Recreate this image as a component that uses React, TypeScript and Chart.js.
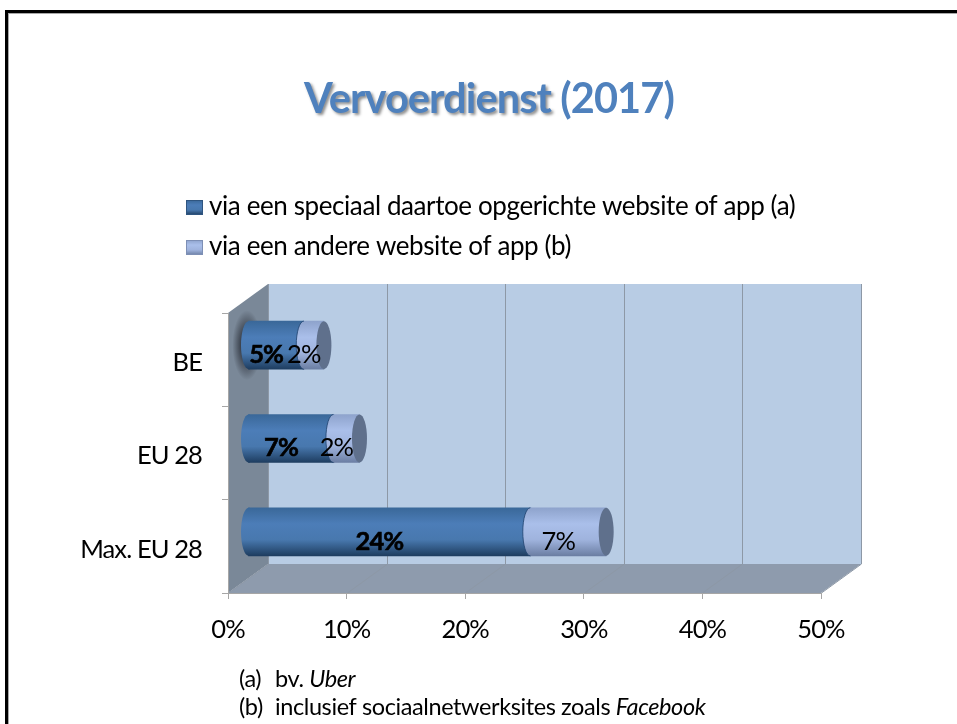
import React, { useEffect, useRef } from "react";
import { Chart, registerables } from "chart.js";

Chart.register(...registerables);

const categories = ["BE", "EU 28", "Max. EU 28"];
const dedicatedValues = [4.7, 7.2, 23.8];
const otherValues = [1.7, 2.2, 6.4];
const dedicatedLabels = ["5%", "7%", "24%"];
const otherLabels = ["2%", "2%", "7%"];
const seriesNames = ["via een speciaal daartoe opgerichte website of app (a)", "via een andere website of app (b)"];
const titleBold = "Vervoerdienst";
const titleRest = " (2017)";
const noteA = ["(a)", "bv. ", "Uber"];
const noteB = ["(b)", "inclusief sociaalnetwerksites zoals ", "Facebook"];

const FAMILY = "Lato, 'Open Sans', sans-serif";
const SPACING = "-0.9px";
const TEXT_SPACING = "-0.4px";
const BAR = 48;
const DX = 40;
const DY = -29;
const RX = 7.5;

function vGrad(c: CanvasRenderingContext2D, top: number, h: number, stops: string[]) {
  const g = c.createLinearGradient(0, top, 0, top + h);
  stops.forEach((s, i) => g.addColorStop(i / (stops.length - 1), s));
  return g;
}
const BLUE = ["#3a6899", "#4c7db8", "#4878ae", "#1e3d60"];
const LIGHT = ["#8ea3cc", "#aabfea", "#9fb3dd", "#6b7ea3"];

const scenePlugin = {
  id: "scene",
  afterLayout(chart: any) {
    const sc = chart.scales.y;
    if (sc.__shifted) return;
    sc.__shifted = true;
    const orig = sc.drawLabels;
    sc.drawLabels = function (area: any) {
      chart.ctx.save();
      chart.ctx.translate(0, 3);
      orig.call(sc, area);
      chart.ctx.restore();
    };
  },
  beforeDraw(chart: any) {
    const { ctx, scales } = chart;
    const x0 = scales.x.left, x1 = scales.x.right, yT = scales.y.top, yB = scales.y.bottom;
    ctx.save();
    // slide frame
    ctx.fillStyle = "#000";
    ctx.fillRect(5, 10, 952, 3);
    ctx.fillRect(5, 10, 3, 714);
    ctx.fillStyle = "#a8a8a8";
    ctx.fillRect(8, 13, 949, 1);
    ctx.fillRect(8, 13, 1, 711);
    // back wall
    ctx.fillStyle = "#b8cce4";
    ctx.fillRect(x0 + DX, yT + DY, x1 - x0, yB - yT + 1);
    // side wall
    ctx.fillStyle = "#7a8898";
    ctx.beginPath();
    ctx.moveTo(x0, yT); ctx.lineTo(x0 + DX, yT + DY); ctx.lineTo(x0 + DX, yB + DY); ctx.lineTo(x0, yB);
    ctx.closePath(); ctx.fill();
    // floor
    ctx.fillStyle = "#8e9bad";
    ctx.beginPath();
    ctx.moveTo(x0, yB); ctx.lineTo(x0 + DX, yB + DY); ctx.lineTo(x1 + DX, yB + DY); ctx.lineTo(x1, yB);
    ctx.closePath(); ctx.fill();
    // grid lines on the walls
    ctx.strokeStyle = "#8d98a6";
    ctx.lineWidth = 1;
    scales.x.ticks.forEach((t: any, i: number) => {
      const px = Math.round(scales.x.getPixelForTick(i)) + 0.5;
      ctx.beginPath();
      ctx.moveTo(px, yB); ctx.lineTo(px + DX, yB + DY); ctx.lineTo(px + DX, yT + DY);
      ctx.stroke();
    });
    // halo on the side wall behind the first bar
    const cy = scales.y.getPixelForValue(0) + DY / 2;
    const cx = x0 + DX / 2 - 1;
    ctx.save();
    ctx.translate(cx, cy);
    ctx.scale(0.42, 1);
    const halo = ctx.createRadialGradient(0, 0, 14, 0, 0, 35);
    halo.addColorStop(0, "rgba(40,45,55,0.8)");
    halo.addColorStop(1, "rgba(40,45,55,0)");
    ctx.fillStyle = halo;
    ctx.beginPath(); ctx.arc(0, 0, 35, 0, Math.PI * 2); ctx.fill();
    ctx.restore();
    ctx.restore();
    ctx.letterSpacing = SPACING;
  },
  beforeDatasetsDraw(chart: any) {
    chart.ctx.save();
    chart.ctx.translate(DX / 2, DY / 2);
  },
  afterDatasetsDraw(chart: any) {
    const { ctx } = chart;
    const m0 = chart.getDatasetMeta(0).data, m1 = chart.getDatasetMeta(1).data;
    const half = (x: number, y: number, h: number, stops: string[]) => {
      ctx.fillStyle = vGrad(ctx, y - h / 2, h, stops);
      ctx.beginPath();
      ctx.ellipse(x, y, RX, h / 2, 0, Math.PI / 2, Math.PI * 1.5);
      ctx.lineTo(x + 1.5, y - h / 2);
      ctx.lineTo(x + 1.5, y + h / 2);
      ctx.closePath();
      ctx.fill();
    };
    m0.forEach((b: any) => half(b.base, b.y, b.height, BLUE));
    m1.forEach((b: any) => {
      half(b.base, b.y, b.height, LIGHT);
      ctx.strokeStyle = "rgba(35,70,115,0.85)";
      ctx.lineWidth = 1;
      ctx.beginPath();
      ctx.ellipse(b.base, b.y, RX, b.height / 2, 0, Math.PI / 2, Math.PI * 1.5);
      ctx.stroke();
      ctx.fillStyle = "#5f708c";
      ctx.beginPath();
      ctx.ellipse(b.x, b.y, RX, b.height / 2, 0, 0, Math.PI * 2);
      ctx.fill();
    });
    ctx.restore();
    // value labels
    ctx.save();
    ctx.fillStyle = "#000";
    ctx.strokeStyle = "#000";
    ctx.lineWidth = 0.6;
    ctx.textAlign = "center";
    ctx.textBaseline = "middle";
    ctx.font = `bold 25.5px ${FAMILY}`;
    m0.forEach((b: any, i: number) => {
      const lx = (b.base + b.x) / 2 + 10;
      ctx.fillText(dedicatedLabels[i], lx, b.y - 5);
      ctx.strokeText(dedicatedLabels[i], lx, b.y - 5);
    });
    ctx.font = `25.5px ${FAMILY}`;
    m1.forEach((b: any, i: number) => ctx.fillText(otherLabels[i], (b.base + b.x) / 2 + 10, b.y - 5));
    ctx.restore();
  },
  afterDraw(chart: any) {
    const { ctx } = chart;
    ctx.save();
    ctx.textBaseline = "alphabetic";
    ctx.textAlign = "left";
    // title
    ctx.font = `bold 41.5px ${FAMILY}`;
    const w1 = ctx.measureText(titleBold).width, w2 = ctx.measureText(titleRest).width;
    const tx = 489 - (w1 + w2) / 2;
    ctx.save();
    ctx.shadowColor = "rgba(0,0,0,0.45)";
    ctx.shadowBlur = 3;
    ctx.shadowOffsetX = 2;
    ctx.shadowOffsetY = 2;
    ctx.fillStyle = "#4f81bd";
    ctx.fillText(titleBold, tx, 113);
    ctx.restore();
    ctx.fillStyle = "#4f81bd";
    ctx.fillText(titleRest, tx + w1, 113);
    // legend
    ctx.letterSpacing = TEXT_SPACING;
    ctx.font = `26px ${FAMILY}`;
    const rows = [[215, BLUE], [255, LIGHT]] as [number, string[]][];
    rows.forEach(([base, stops], i) => {
      ctx.fillStyle = vGrad(ctx, base - 15, 15, stops);
      ctx.fillRect(186, base - 15, 17, 15);
      ctx.strokeStyle = i === 0 ? "#2f5580" : "#7d8fb5";
      ctx.lineWidth = 1;
      ctx.strokeRect(186.5, base - 14.5, 16, 14);
      ctx.fillStyle = "#000";
      ctx.fillText(seriesNames[i], 209, base);
    });
    // footnotes
    const note = (parts: string[], base: number) => {
      ctx.font = `23.5px ${FAMILY}`;
      ctx.fillStyle = "#000";
      ctx.fillText(parts[0], 239, base);
      ctx.fillText(parts[1], 275, base);
      const w = ctx.measureText(parts[1]).width;
      ctx.font = `italic 23.5px ${FAMILY}`;
      ctx.fillText(parts[2], 275 + w, base);
    };
    note(noteA, 687);
    note(noteB, 715);
    ctx.restore();
  },
};

export default function App() {
  const ref = useRef<HTMLCanvasElement>(null);
  useEffect(() => {
    const c = ref.current!;
    const fill = (stops: string[]) => (ctx: any) => {
      const sc = ctx.chart.scales.y;
      const y = sc ? sc.getPixelForValue(ctx.dataIndex) : NaN;
      if (!Number.isFinite(y)) return stops[1];
      return vGrad(ctx.chart.ctx, y - BAR / 2, BAR, stops);
    };
    const chart = new Chart(c, {
      type: "bar",
      data: {
        labels: categories,
        datasets: [
          { label: seriesNames[0], data: dedicatedValues, backgroundColor: fill(BLUE), barThickness: BAR, clip: false },
          { label: seriesNames[1], data: otherValues, backgroundColor: fill(LIGHT), barThickness: BAR, clip: false },
        ],
      },
      options: {
        indexAxis: "y",
        responsive: false,
        animation: false,
        layout: { padding: { left: 0, right: 136, top: 313, bottom: 0 } },
        plugins: { legend: { display: false }, title: { display: false }, tooltip: { enabled: false } },
        scales: {
          x: {
            stacked: true,
            min: 0,
            max: 50,
            afterFit: (s: any) => { s.height = 131; },
            ticks: {
              stepSize: 10,
              maxRotation: 0,
              padding: 15,
              color: "#000",
              font: { family: FAMILY, size: 25.5 },
              callback: (v: any) => `${v}%`,
            },
            grid: { drawOnChartArea: false, color: "#a6a6a6", tickLength: 6 },
            border: { color: "#a6a6a6" },
          },
          y: {
            stacked: true,
            afterFit: (s: any) => { s.width = 228; },
            ticks: { padding: 20, color: "#000", font: { family: FAMILY, size: 25.5 } },
            grid: { drawOnChartArea: false, color: "#a6a6a6", tickLength: 6 },
            border: { color: "#a6a6a6" },
          },
        },
      },
      plugins: [scenePlugin],
    } as any);
    return () => chart.destroy();
  }, []);
  return (
    <div style={{ position: "absolute", left: 0, top: 0, width: 957, height: 724, background: "#fff" }}>
      <canvas ref={ref} width={957} height={724} style={{ display: "block" }} />
    </div>
  );
}
